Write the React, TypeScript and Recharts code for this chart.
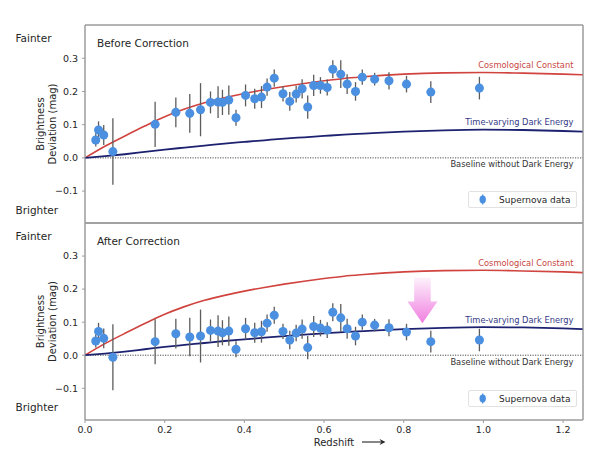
import React from 'react';
import {
  ComposedChart,
  Line,
  Scatter,
  ErrorBar,
  XAxis,
  YAxis,
  ReferenceLine,
  ReferenceDot,
  ReferenceArea,
  Legend,
} from 'recharts';

// ---------- data ----------
const snZ = [
  0.027, 0.034, 0.047, 0.07, 0.176, 0.228, 0.263, 0.29, 0.315, 0.334, 0.345, 0.361,
  0.379, 0.403, 0.426, 0.443, 0.457, 0.475, 0.497, 0.514, 0.53, 0.545, 0.559, 0.574,
  0.591, 0.608, 0.622, 0.642, 0.658, 0.679, 0.696, 0.727, 0.763, 0.807, 0.868, 0.99,
];
const snErr = [
  0.02, 0.026, 0.03, 0.1, 0.068, 0.045, 0.058, 0.08, 0.033, 0.048, 0.038, 0.044,
  0.024, 0.033, 0.03, 0.033, 0.026, 0.026, 0.023, 0.028, 0.025, 0.029, 0.035, 0.032,
  0.025, 0.024, 0.027, 0.042, 0.03, 0.028, 0.023, 0.019, 0.026, 0.025, 0.033, 0.034,
];
const beforeV = [
  0.054, 0.084, 0.069, 0.019, 0.101, 0.137, 0.134, 0.145, 0.167, 0.168, 0.167, 0.174,
  0.121, 0.188, 0.178, 0.183, 0.213, 0.24, 0.193, 0.17, 0.192, 0.208, 0.153, 0.218,
  0.218, 0.212, 0.267, 0.252, 0.222, 0.2, 0.243, 0.237, 0.232, 0.222, 0.198, 0.21,
];
const afterV = [
  0.043, 0.072, 0.051, -0.006, 0.041, 0.065, 0.055, 0.058, 0.075, 0.073, 0.068, 0.073,
  0.018, 0.08, 0.068, 0.071, 0.097, 0.121, 0.072, 0.046, 0.067, 0.079, 0.023, 0.087,
  0.082, 0.076, 0.13, 0.113, 0.08, 0.058, 0.1, 0.091, 0.083, 0.07, 0.041, 0.046,
];
const curveZ = [0, 0.05, 0.1, 0.15, 0.2, 0.25, 0.3, 0.35, 0.4, 0.45, 0.5, 0.55, 0.6, 0.65, 0.7, 0.8, 0.9, 1.0, 1.1, 1.2, 1.25];
const cosmoV = [0, 0.035, 0.066, 0.096, 0.124, 0.147, 0.166, 0.181, 0.194, 0.205, 0.215, 0.224, 0.232, 0.239, 0.244, 0.252, 0.256, 0.257, 0.255, 0.252, 0.25];
const darkV = [0, 0.005, 0.011, 0.018, 0.025, 0.031, 0.037, 0.043, 0.048, 0.053, 0.058, 0.062, 0.066, 0.07, 0.073, 0.079, 0.083, 0.085, 0.084, 0.081, 0.079];
const xTicks = [0, 0.2, 0.4, 0.6, 0.8, 1.0, 1.2];
const yTicks = [-0.1, 0, 0.1, 0.2, 0.3];
const X_DOMAIN: [number, number] = [0, 1.25];
const Y_DOMAIN: [number, number] = [-0.196, 0.4];

// ---------- style ----------
const FRAME = '#9c9c9c';
const MARKER = '#4a8fe0';
const ERR = '#5c5c5c';
const RED = '#d0433e';
const NAVY = '#1d2270';
const TEXT = '#262626';

const fmtY = (v: number) => (v < 0 ? '\u2212' + Math.abs(v).toFixed(1) : v.toFixed(1));
const fmtX = (v: number) => v.toFixed(1);

const YLabel = (props: any) => {
  const vb = props.viewBox || { x: 0, y: 0, width: 85, height: 200 };
  const cy = vb.y + vb.height / 2;
  const x1 = 44.4;
  const x2 = 55.6;
  return (
    <g>
      <text x={x1} y={cy} transform={`rotate(-90, ${x1}, ${cy})`} textAnchor="middle" fontSize={10} fill={TEXT}>
        Brightness
      </text>
      <text x={x2} y={cy} transform={`rotate(-90, ${x2}, ${cy})`} textAnchor="middle" fontSize={10} fill={TEXT}>
        Deviation (mag)
      </text>
    </g>
  );
};

const RedshiftLabel = (props: any) => {
  const vb = props.viewBox;
  if (!vb) return null;
  const cx = vb.x + vb.width / 2;
  const by = vb.y + 25.5;
  return (
    <g>
      <text x={cx} y={by} textAnchor="middle" fontSize={10} fill={TEXT}>
        Redshift
      </text>
      <line x1={cx + 28} y1={by - 3.5} x2={cx + 48} y2={by - 3.5} stroke={TEXT} strokeWidth={1.1} />
      <path
        d={`M${cx + 51.5},${by - 3.5} L${cx + 45.5},${by - 6.6} L${cx + 47.5},${by - 3.5} L${cx + 45.5},${by - 0.4} Z`}
        fill={TEXT}
      />
    </g>
  );
};

const ArrowShape = (p: any) => {
  const { cx, cy } = p;
  if (cx == null || cy == null) return null;
  const pts = [
    [cx - 8.3, cy - 45.3],
    [cx + 8.3, cy - 45.3],
    [cx + 8.3, cy - 21.6],
    [cx + 15, cy - 21.6],
    [cx, cy],
    [cx - 15, cy - 21.6],
    [cx - 8.3, cy - 21.6],
  ]
    .map((q) => q.join(','))
    .join(' ');
  return (
    <g>
      <defs>
        <linearGradient id="pinkGrad" x1="0" y1="0" x2="0" y2="1">
          <stop offset="0%" stopColor="#fdf0fb" />
          <stop offset="100%" stopColor="#f07fe0" />
        </linearGradient>
      </defs>
      <polygon points={pts} fill="url(#pinkGrad)" />
    </g>
  );
};

const LegendBox = (props: any) => {
  const items = (props.payload || []).filter((it: any) => it.type !== 'none');
  return (
    <div
      style={{
        boxSizing: 'border-box',
        width: 109,
        height: 17,
        border: '1px solid #e2e2e2',
        borderRadius: 2,
        background: '#fff',
        display: 'flex',
        alignItems: 'center',
        fontSize: 9,
        color: TEXT,
        fontFamily: "'DejaVu Sans', sans-serif",
        whiteSpace: 'nowrap',
      }}
    >
      {items.map((it: any) => (
        <React.Fragment key={String(it.value)}>
          <svg width={30} height={15} style={{ flex: 'none' }}>
            <line x1={13.7} y1={2.5} x2={13.7} y2={12.5} stroke={MARKER} strokeWidth={1.2} />
            <ellipse cx={13.7} cy={7.5} rx={3.2} ry={4} fill={MARKER} />
          </svg>
          <span>{it.value}</span>
        </React.Fragment>
      ))}
    </div>
  );
};

type PanelProps = {
  title: string;
  values: number[];
  showX: boolean;
  showArrow: boolean;
  top: number;
  height: number;
  marginTop: number;
  marginBottom: number;
  legendTop: number;
};

const Panel = ({ title, values, showX, showArrow, top, height, marginTop, marginBottom, legendTop }: PanelProps) => {
  const pts = snZ.map((z, i) => ({ z, v: values[i], e: snErr[i] }));
  const cosmo = curveZ.map((z, i) => ({ z, v: cosmoV[i] }));
  const dark = curveZ.map((z, i) => ({ z, v: darkV[i] }));
  const textDot = { r: 0, fill: 'none', stroke: 'none', ifOverflow: 'visible' as const };
  return (
    <div style={{ position: 'absolute', left: 0, top, width: 600, height }}>
      <ComposedChart
        width={600}
        height={height}
        margin={{ top: marginTop, right: 17, bottom: marginBottom, left: 0 }}
      >
        <XAxis
          xAxisId={0}
          dataKey="z"
          type="number"
          domain={X_DOMAIN}
          ticks={xTicks}
          allowDataOverflow
          stroke={FRAME}
          tickLine={{ stroke: FRAME }}
          tickSize={3}
          tickMargin={3}
          mirror={!showX}
          height={showX ? 44 : 30}
          tick={showX ? { fill: TEXT, fontSize: 9.5 } : false}
          tickFormatter={fmtX}
          label={showX ? RedshiftLabel : undefined}
        />
        <XAxis
          xAxisId="t"
          orientation="top"
          type="number"
          domain={X_DOMAIN}
          ticks={xTicks}
          allowDataOverflow
          stroke={FRAME}
          tickLine={{ stroke: FRAME }}
          tickSize={3}
          mirror
          tick={false}
        />
        <YAxis
          yAxisId={0}
          type="number"
          domain={Y_DOMAIN}
          ticks={yTicks}
          allowDataOverflow
          width={85}
          stroke={FRAME}
          tickLine={{ stroke: FRAME }}
          tickSize={3}
          tickMargin={4}
          tick={{ fill: TEXT, fontSize: 9.5 }}
          tickFormatter={fmtY}
          label={YLabel}
        />
        <YAxis
          yAxisId="r"
          orientation="right"
          type="number"
          domain={Y_DOMAIN}
          ticks={yTicks}
          allowDataOverflow
          stroke={FRAME}
          tickLine={{ stroke: FRAME }}
          tickSize={3}
          mirror
          tick={false}
        />
        <ReferenceArea
          x1={X_DOMAIN[0]}
          x2={X_DOMAIN[1]}
          y1={Y_DOMAIN[0]}
          y2={Y_DOMAIN[1]}
          fill="none"
          fillOpacity={0}
          stroke={FRAME}
          strokeWidth={1}
          ifOverflow="visible"
        />
        <ReferenceLine y={0} stroke="#4a4a4a" strokeDasharray="1.2 1.3" strokeWidth={1} />
        <Line
          data={cosmo}
          dataKey="v"
          type="monotone"
          stroke={RED}
          strokeWidth={1.6}
          dot={false}
          activeDot={false}
          legendType="none"
          isAnimationActive={false}
        />
        <Line
          data={dark}
          dataKey="v"
          type="monotone"
          stroke={NAVY}
          strokeWidth={1.8}
          dot={false}
          activeDot={false}
          legendType="none"
          isAnimationActive={false}
        />
        <Scatter name="Supernova data" data={pts} dataKey="v" fill={MARKER} isAnimationActive={false}>
          <ErrorBar dataKey="e" direction="y" width={0} stroke={ERR} strokeWidth={1.3} />
        </Scatter>
        <ReferenceDot
          x={1.226}
          y={0.28}
          {...textDot}
          label={{ value: 'Cosmological Constant', position: 'left', offset: 0, fill: '#c9473f', fontSize: 8.3 }}
        />
        <ReferenceDot
          x={1.226}
          y={0.107}
          {...textDot}
          label={{ value: 'Time-varying Dark Energy', position: 'left', offset: 0, fill: '#343a86', fontSize: 8.3 }}
        />
        <ReferenceDot
          x={1.226}
          y={-0.02}
          {...textDot}
          label={{ value: 'Baseline without Dark Energy', position: 'left', offset: 0, fill: '#333', fontSize: 8.3 }}
        />
        <ReferenceDot
          x={0.03}
          y={0.346}
          {...textDot}
          label={{ value: title, position: 'right', offset: 0, fill: TEXT, fontSize: 10.5 }}
        />
        <ReferenceDot
          x={-0.1745}
          y={0.361}
          {...textDot}
          label={{ value: 'Fainter', position: 'right', offset: 0, fill: TEXT, fontSize: 10.5 }}
        />
        <ReferenceDot
          x={-0.1745}
          y={-0.158}
          {...textDot}
          label={{ value: 'Brighter', position: 'right', offset: 0, fill: TEXT, fontSize: 10.5 }}
        />
        {showArrow && <ReferenceDot x={0.847} y={0.097} r={0} ifOverflow="visible" shape={ArrowShape} />}
        <Legend
          layout="vertical"
          align="center"
          verticalAlign="middle"
          wrapperStyle={{ left: 468, top: legendTop, width: 109, height: 17, right: 'auto', bottom: 'auto' }}
          content={LegendBox}
        />
      </ComposedChart>
    </div>
  );
}

export default function App() {
  return (
    <div
      style={{
        position: 'absolute',
        left: 0,
        top: 0,
        width: 600,
        height: 464,
        background: '#fff',
        fontFamily: "'DejaVu Sans', sans-serif",
      }}
    >
      <Panel
        title="Before Correction"
        values={beforeV}
        showX={false}
        showArrow={false}
        top={0}
        height={224}
        marginTop={25}
        marginBottom={1}
        legendTop={191}
      />
      <Panel
        title="After Correction"
        values={afterV}
        showX={true}
        showArrow={true}
        top={222}
        height={242}
        marginTop={1}
        marginBottom={0}
        legendTop={168}
      />
    </div>
  );
}
